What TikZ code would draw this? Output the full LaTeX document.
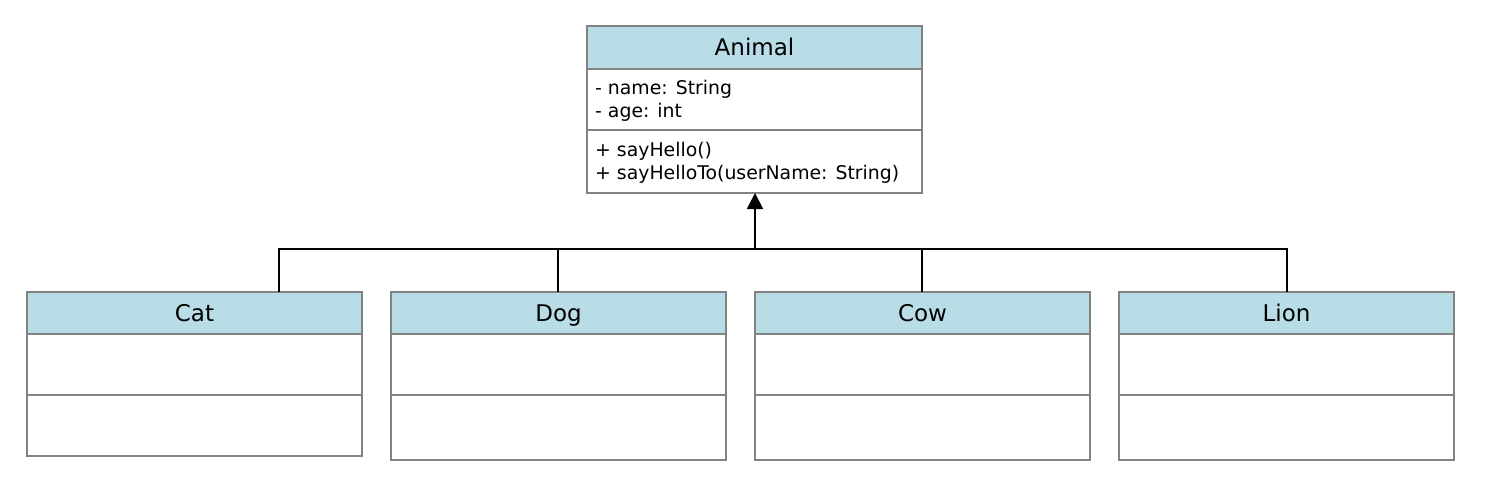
\documentclass[tikz,border=0pt]{standalone}
\usepackage{fontspec}
\setmainfont{DejaVu Sans}
\usetikzlibrary{arrows.meta}
\definecolor{boxgray}{RGB}{130,130,130}
\definecolor{hdrblue}{RGB}{184,221,230}
\begin{document}
\begin{tikzpicture}[x=1pt,y=-1pt,
  hdr/.style={draw=boxgray, line width=1.8pt, fill=hdrblue, minimum width=335pt, minimum height=43pt, anchor=north west, inner sep=0pt, outer sep=0pt, text height=16.8pt, text depth=0pt, font=\fontsize{23}{27}\selectfont},
  sect/.style={draw=boxgray, line width=1.8pt, fill=white, minimum width=335pt, anchor=north west, inner sep=0pt, outer sep=0pt},
  memb/.style={anchor=west, align=left, inner sep=0pt, font=\fontsize{18.85}{23}\selectfont},
  conn/.style={line width=1.8pt, black},
]
\useasboundingbox (0,0) rectangle (1511,499);
% Animal
\node[hdr] (animal) at (587,26) {Animal};
\node[sect, minimum height=61pt] (animalattr) at (587,69) {};
\node[sect, minimum height=63pt] (animalmeth) at (587,130) {};
\node[memb] (attrtext) at (595,101) {- name: String\\- age: int};
\node[memb] (methtext) at (595,162.5) {+ sayHello()\\+ sayHelloTo(userName: String)};
% Cat
\node[hdr, minimum height=42pt] (cat) at (27,292) {Cat};
\node[sect, minimum height=61pt] (catattr) at (27,334) {};
\node[sect, minimum height=61pt] (catmeth) at (27,395) {};
% Dog
\node[hdr, minimum height=42pt] (dog) at (391,292) {Dog};
\node[sect, minimum height=61pt] (dogattr) at (391,334) {};
\node[sect, minimum height=65pt] (dogmeth) at (391,395) {};
% Cow
\node[hdr, minimum height=42pt] (cow) at (755,292) {Cow};
\node[sect, minimum height=61pt] (cowattr) at (755,334) {};
\node[sect, minimum height=65pt] (cowmeth) at (755,395) {};
% Lion
\node[hdr, minimum height=42pt] (lion) at (1119,292) {Lion};
\node[sect, minimum height=61pt] (lionattr) at (1119,334) {};
\node[sect, minimum height=65pt] (lionmeth) at (1119,395) {};
% connectors
\coordinate (bcat) at (279,249);
\coordinate (bdog) at (558,249);
\coordinate (bmid) at (755,249);
\coordinate (bcow) at (922,249);
\coordinate (blion) at (1287,249);
\draw[conn] (bcat |- cat.north) -- (bcat) -- (blion) -- (blion |- lion.north);
\draw[conn] (bdog) -- (bdog |- dog.north);
\draw[conn] (bcow) -- (bcow |- cow.north);
\draw[conn, -{Triangle[length=16pt,width=16pt]}] (bmid) -- (bmid |- animalmeth.south);
\end{tikzpicture}
\end{document}
